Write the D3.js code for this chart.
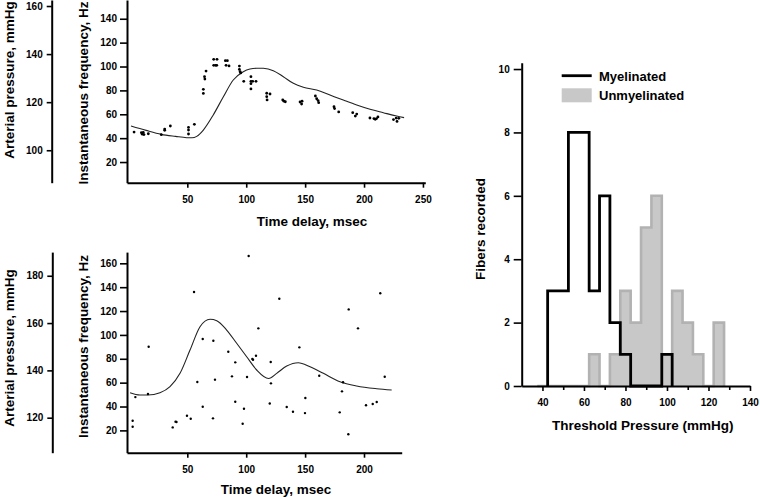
<!DOCTYPE html>
<html>
<head>
<meta charset="utf-8">
<script src="https://cdn.jsdelivr.net/npm/d3@7"></script>
<style>
  html, body { margin: 0; padding: 0; background: #fff; }
  svg { display: block; font-family: Arial, "Liberation Sans", sans-serif; font-weight: bold; }
  .tick text { font-size: 10px; font-weight: bold; fill: #000; }
</style>
</head>
<body>
<svg id="chart" width="760" height="497"></svg>
<script>
// ---------- Top panel data ----------
const topDotTime = [4.8,11,11.8,12.6,13.2,16.9,27.9,30.8,30.8,35.6,51,51,51,56,63.6,63.6,64.6,64.9,65.9,72.4,75.2,72.4,74,75,82.3,84,82.9,85.4,94.2,94.2,94.8,95.3,97.9,104,104,104,104,105.5,108.3,117.4,117.4,117.7,120.2,131,133.2,132,145.7,147,147.4,158.7,159.8,161.5,161,174.5,175,178.5,190.4,192.6,193.8,205,208.4,210.6,211.8,209.5,225,227.3,228,229.5];
const topDotFreq = [45.1,44.6,43.3,44.8,43,43.7,42.9,47.6,46.6,50.2,49,46.8,43.5,51.6,80.9,77.5,91.5,89.5,96.2,106,106,101,101,101,104.9,104.9,101,100.5,100.4,97.6,95.6,94.6,87.6,91.5,87.6,85.6,81.2,87.6,87.6,77.6,74.7,72,77,72,70.5,71,70.3,68.6,71,75.3,73,69.7,71.5,66.3,64.8,62,61.3,58.5,60.2,56.9,56.4,56.4,57.8,55.8,55.6,56.8,54,56.6];
const topCurveTime = [2.2,15,27.9,40,49.5,54,58,63.6,72,80.6,89,97.5,103.2,109,114.5,123,131.5,140,148.5,159.8,171.1,182.4,193.8,205.1,216.4,227.7,234];
const topCurveFreq = [50.2,46.5,43.2,41.5,40.4,40.3,41.5,46.8,59.4,74.7,88.7,95.6,97.9,98.6,98.5,96.5,91.5,85.9,82.6,80.3,76.1,71.9,67.8,64.2,61.3,58.5,57.2];

// ---------- Bottom panel data ----------
const botDotTime = [3.6,3.6,5.9,17.2,16.6,37.6,40,40.8,49.7,52.9,55.7,58.5,63.1,63.1,72.1,71.8,73.5,84.8,87.9,90.7,90.7,97,98.1,100.7,102.1,105.2,105.8,108.3,110.3,120,120.8,121,128.1,134.4,139.7,145.1,150.2,149.9,162,179.4,181.3,182.2,187,186.7,194.9,201.7,207.4,210.8,213.8,217.6];
const botDotFreq = [28.1,23.1,47.9,90.1,50.5,22.5,27.3,27,32.3,29.8,136,60.5,96.6,39.8,95.1,30.1,62.5,85.9,65.3,77,44,25.6,38.1,64.7,166.1,79.8,79.2,82.6,105.5,42.5,77.3,59.4,130.3,39.6,35.6,89.6,47.1,34.5,65.8,35.1,52.7,60.3,121.4,16.7,105.5,41,42.1,43.8,134.9,65];
const botCurveTime = [1.4,9.8,16.6,26.8,35.3,43.8,52.3,60.8,69.3,75,83.4,91.9,100.4,108.9,119,125.9,134.4,144.2,154.2,165.5,179.6,193.8,210.8,223.5];
const botCurveFreq = [51.5,49.6,49.6,51.5,56.6,67.8,87.3,106.9,113.1,111.9,104.1,93,81.7,70.6,63.5,67.8,73.9,76.7,73.3,67.8,60.8,57.2,54.9,53.8];

// ---------- Histogram data ----------
const binCenters = [40,45,50,55,60,65,70,75,80,85,90,95,100,105,110,115,120,125];
const myelinated = [0,3,3,8,8,3,6,2,1,0,0,0,1,0,0,0,0,0];
const unmyelinated = [0,0,0,0,0,1,0,1,3,2,5,6,1,3,2,1,0,2];

const timeTicks = [50,100,150,200,250];
const timeTicksBottom = [50,100,150,200];
const freqTicksTop = [20,40,60,80,100,120,140];
const freqTicksBottom = [20,40,60,80,100,120,140,160];
const pressTicksTop = [100,120,140,160];
const pressTicksBottom = [120,140,160,180];
const histXTicks = [40,60,80,100,120,140];
const histXMinor = [50,70,90,110,130];
const histYTicks = [0,2,4,6,8,10];

const svg = d3.select("#chart");
svg.append("rect").attr("width",760).attr("height",497).attr("fill","#fff");

function styleAxis(g, w) {
  g.select(".domain").attr("stroke","#000").attr("stroke-width", w || 2);
  g.selectAll(".tick line").attr("stroke","#000").attr("stroke-width", 1.6);
  g.selectAll(".tick text").attr("fill","#000");
}

function panel(opts) {
  const x = d3.scaleLinear().domain(opts.xDomain).range(opts.xRange);
  const y = d3.scaleLinear().domain(opts.yDomain).range(opts.yRange);
  const yp = d3.scaleLinear().domain(opts.pDomain).range(opts.yRange);

  // pressure axis
  const gp = svg.append("g").attr("transform", `translate(${opts.pAxisX},0)`)
    .call(d3.axisLeft(yp).tickValues(opts.pTicks).tickSize(5).tickPadding(4).tickSizeOuter(0));
  styleAxis(gp);
  svg.append("text").attr("transform", `translate(14,${opts.pLabelY}) rotate(-90)`)
    .attr("text-anchor","middle").attr("font-size",13.5).text("Arterial pressure, mmHg");

  // frequency axis
  const gy = svg.append("g").attr("transform", `translate(${opts.xRange[0]},0)`)
    .call(d3.axisLeft(y).tickValues(opts.fTicks).tickSize(7).tickPadding(3).tickSizeOuter(0));
  styleAxis(gy);
  svg.append("text").attr("transform", `translate(88,${opts.fLabelY}) rotate(-90)`)
    .attr("text-anchor","middle").attr("font-size",13.5).text("Instantaneous frequency, Hz");

  // time axis
  const gx = svg.append("g").attr("transform", `translate(0,${opts.yRange[0]})`)
    .call(d3.axisBottom(x).tickValues(opts.tTicks).tickSize(5).tickPadding(8).tickSizeOuter(0));
  styleAxis(gx);
  svg.append("text").attr("x", opts.tLabelX).attr("y", opts.tLabelY)
    .attr("text-anchor","middle").attr("font-size",13.5).text("Time delay, msec");

  // curve
  const line = d3.line().x(d => x(d[0])).y(d => y(d[1])).curve(d3.curveMonotoneX);
  svg.append("path").datum(d3.zip(opts.curveT, opts.curveF))
    .attr("d", line).attr("fill","none").attr("stroke","#222").attr("stroke-width",1.1);

  // dots
  svg.append("g").selectAll("circle").data(d3.zip(opts.dotT, opts.dotF)).join("circle")
    .attr("cx", d => x(d[0])).attr("cy", d => y(d[1])).attr("r", opts.r).attr("fill","#000");
}

panel({
  xDomain: [-1.2, 252], xRange: [127, 425.3],
  yDomain: [2.7, 155.7], yRange: [182.7, 0],
  pDomain: [86.5, 162.5],
  pAxisX: 51.7, pTicks: pressTicksTop, fTicks: freqTicksTop, tTicks: timeTicks,
  pLabelY: 80, fLabelY: 93, tLabelX: 312, tLabelY: 226,
  curveT: topCurveTime, curveF: topCurveFreq, dotT: topDotTime, dotF: topDotFreq, r: 1.4
});

panel({
  xDomain: [-1.2, 232], xRange: [127, 401.7],
  yDomain: [1.3, 169.4], yRange: [452.7, 252.1],
  pDomain: [105.2, 190],
  pAxisX: 52.3, pTicks: pressTicksBottom, fTicks: freqTicksBottom, tTicks: timeTicksBottom,
  pLabelY: 348, fLabelY: 346.5, tLabelX: 276, tLabelY: 494,
  curveT: botCurveTime, curveF: botCurveFreq, dotT: botDotTime, dotF: botDotFreq, r: 1.2
});

// ---------- Histogram ----------
const hx = d3.scaleLinear().domain([30,140]).range([521.7,750]);
const hy = d3.scaleLinear().domain([0,10.2]).range([386,62.7]);

function stepPoints(counts, startEdge) {
  const pts = [];
  if (startEdge !== undefined) pts.push([startEdge, 0]);
  binCenters.forEach((c,i) => pts.push([c-2.5, counts[i]]));
  pts.push([binCenters[binCenters.length-1]+2.5, 0]);
  return pts;
}
const unPts = stepPoints(unmyelinated);
const myPts = stepPoints(myelinated.slice(1).concat([0]).length ? myelinated : myelinated);
const stepLine = d3.line().x(d => hx(d[0])).y(d => hy(d[1])).curve(d3.curveStepAfter);
const stepArea = d3.area().x(d => hx(d[0])).y0(hy(0)).y1(d => hy(d[1])).curve(d3.curveStepAfter);

svg.append("path").datum(unPts).attr("d", stepArea).attr("fill","#c8c8c8").attr("stroke","none");
svg.append("path").datum(unPts).attr("d", stepLine).attr("fill","none").attr("stroke","#b2b2b2").attr("stroke-width",2.6);

// myelinated outline: starts where first non-zero bin begins
const myFirst = myelinated.findIndex(v => v > 0);
const myLast = myelinated.length - 1 - [...myelinated].reverse().findIndex(v => v > 0);
const myOutline = [[binCenters[myFirst]-2.5, 0]];
for (let i = myFirst; i <= myLast; i++) myOutline.push([binCenters[i]-2.5, myelinated[i]]);
myOutline.push([binCenters[myLast]+2.5, 0]);

// axes
const hgx = svg.append("g").attr("transform", `translate(0,${hy(0)})`)
  .call(d3.axisBottom(hx).tickValues(histXTicks).tickSize(5).tickPadding(8).tickSizeOuter(0));
styleAxis(hgx);
hgx.selectAll(".tick text").attr("font-size", 10.5);
svg.append("g").attr("transform", `translate(0,${hy(0)})`)
  .call(d3.axisBottom(hx).tickValues(histXMinor).tickSize(4).tickFormat(""))
  .call(g => { g.select(".domain").remove(); g.selectAll(".tick line").attr("stroke","#000").attr("stroke-width",1.6); });
const hgy = svg.append("g").attr("transform", `translate(${hx(30)},0)`)
  .call(d3.axisLeft(hy).tickValues(histYTicks).tickSize(8).tickPadding(4).tickSizeOuter(0));
styleAxis(hgy);
hgy.selectAll(".tick text").attr("font-size", 10.5);

svg.append("path").datum(myOutline).attr("d", stepLine).attr("fill","none")
  .attr("stroke","#000").attr("stroke-width",2.8).attr("stroke-linejoin","miter");

svg.append("text").attr("x", 642.7).attr("y", 430).attr("text-anchor","middle")
  .attr("font-size",13.5).text("Threshold Pressure (mmHg)");
svg.append("text").attr("transform", "translate(485,229) rotate(-90)")
  .attr("text-anchor","middle").attr("font-size",13.5).text("Fibers recorded");

// legend
svg.append("line").attr("x1",561.7).attr("x2",591.7).attr("y1",75.7).attr("y2",75.7)
  .attr("stroke","#000").attr("stroke-width",2.8);
svg.append("rect").attr("x",561.7).attr("y",88.3).attr("width",30).attr("height",14)
  .attr("fill","#c8c8c8");
svg.append("text").attr("x",599).attr("y",80.5).attr("font-size",13).text("Myelinated");
svg.append("text").attr("x",599).attr("y",100).attr("font-size",13).text("Unmyelinated");
</script>
</body>
</html>
